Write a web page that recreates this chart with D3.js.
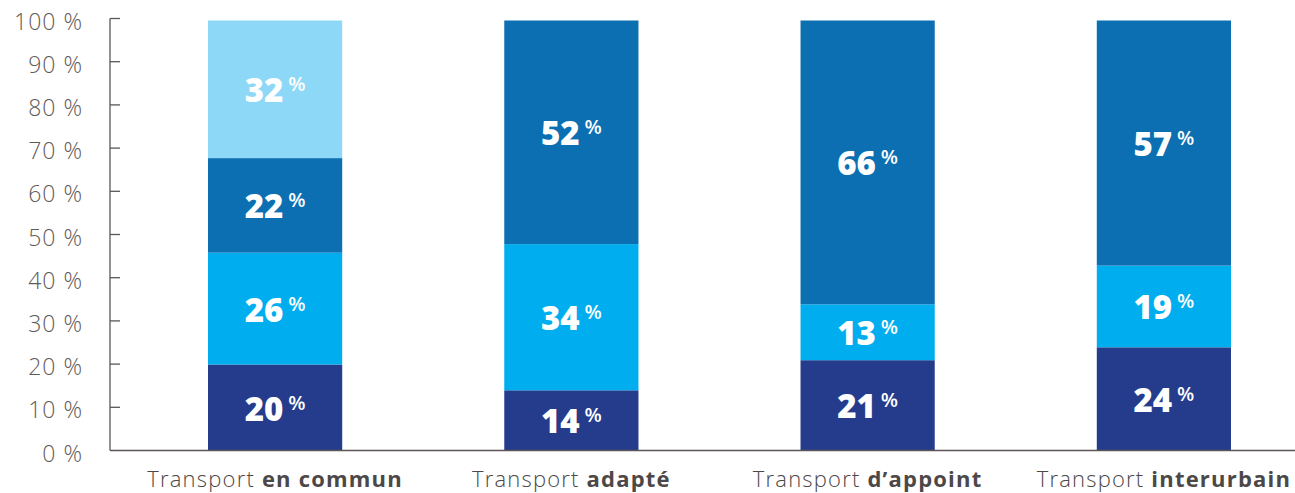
<!DOCTYPE html>
<html>
<head>
<meta charset="utf-8">
<script src="https://cdn.jsdelivr.net/npm/d3@7"></script>
<style>
  body { margin: 0; background: #fff; }
  svg { display: block; }
</style>
</head>
<body>
<div id="chart"></div>
<script>
// data
const categories = ['en commun', 'adapté', 'd’appoint', 'interurbain'];
const series = ['s1', 's2', 's3', 's4'];
const s1 = [20, 14, 21, 24];
const s2 = [26, 34, 13, 19];
const s3 = [22, 52, 66, 57];
const s4 = [32, 0, 0, 0];
const yTicks = [0, 10, 20, 30, 40, 50, 60, 70, 80, 90, 100];
const colors = ['#253c8c', '#00aeef', '#0b6fb2', '#8ed8f7'];

const width = 1295, height = 493;
const axisX = 110;

const svg = d3.select('#chart')
  .append('svg')
  .attr('width', width)
  .attr('height', height);

const y = d3.scaleLinear().domain([0, 100]).range([450.5, 18.5]);
// bars stop a touch below the 100 % tick, as in the original
const yBar = d3.scaleLinear().domain([0, 100]).range([450.5, 20.5]);
const x = d3.scaleBand()
  .domain(categories)
  .range([208, 1231])
  .paddingInner(0.547)
  .paddingOuter(0);

// stack the series
const table = categories.map((c, i) => ({ cat: c, s1: s1[i], s2: s2[i], s3: s3[i], s4: s4[i] }));
const stacked = d3.stack().keys(series)(table);

const layers = svg.selectAll('g.layer')
  .data(stacked)
  .enter()
  .append('g')
  .attr('class', 'layer')
  .attr('fill', (d, i) => colors[i]);

layers.selectAll('rect')
  .data(d => d.filter(p => p[1] - p[0] > 0))
  .enter()
  .append('rect')
  .attr('x', d => x(d.data.cat))
  .attr('width', x.bandwidth())
  .attr('y', d => yBar(d[1]))
  .attr('height', d => yBar(d[0]) - yBar(d[1]));

// value labels: big number + small raised percent sign
const labels = layers.selectAll('text')
  .data(d => d.filter(p => p[1] - p[0] > 0))
  .enter()
  .append('text')
  .attr('x', d => x(d.data.cat) + x.bandwidth() / 2)
  .attr('y', d => (yBar(d[0]) + yBar(d[1])) / 2 + 13)
  .attr('text-anchor', 'middle')
  .attr('fill', '#fff')
  .style('font-family', '"Open Sans", sans-serif')
  .style('font-weight', 800)
  .style('font-size', '33px');

labels.append('tspan')
  .text(d => d[1] - d[0]);
labels.append('tspan')
  .attr('dx', 5)
  .attr('dy', -11)
  .style('font-size', '20px')
  .style('font-weight', 600)
  .text('%');

// y axis
const axisColor = '#5b5655';
svg.append('line')
  .attr('x1', axisX).attr('x2', axisX)
  .attr('y1', y(100)).attr('y2', y(0))
  .attr('stroke', axisColor).attr('stroke-width', 1.3);

svg.append('line')
  .attr('x1', axisX).attr('x2', width)
  .attr('y1', y(0)).attr('y2', y(0))
  .attr('stroke', axisColor).attr('stroke-width', 1.3);

svg.selectAll('line.tick')
  .data(yTicks.filter(t => t > 0))
  .enter()
  .append('line')
  .attr('class', 'tick')
  .attr('x1', axisX).attr('x2', axisX + 10)
  .attr('y1', d => y(d)).attr('y2', d => y(d))
  .attr('stroke', axisColor).attr('stroke-width', 1.3);

svg.selectAll('text.ytick')
  .data(yTicks)
  .enter()
  .append('text')
  .attr('class', 'ytick')
  .attr('x', 83)
  .attr('y', d => y(d) + 11)
  .attr('text-anchor', 'end')
  .attr('fill', '#5f5a59')
  .style('font-family', '"Open Sans", sans-serif')
  .style('font-weight', 300)
  .style('font-size', '23px')
  .style('letter-spacing', '1px')
  .text(d => d + ' %');

// x labels
const xl = svg.selectAll('text.xlab')
  .data(categories)
  .enter()
  .append('text')
  .attr('class', 'xlab')
  .attr('x', d => x(d) + x.bandwidth() / 2)
  .attr('y', 487)
  .attr('text-anchor', 'middle')
  .attr('fill', '#4d4848')
  .style('font-family', '"Open Sans", sans-serif')
  .style('font-size', '22px')
  .style('letter-spacing', '1.2px');

xl.append('tspan').style('font-weight', 300).text('Transport ');
xl.append('tspan').style('font-weight', 700).text(d => d);
</script>
</body>
</html>
